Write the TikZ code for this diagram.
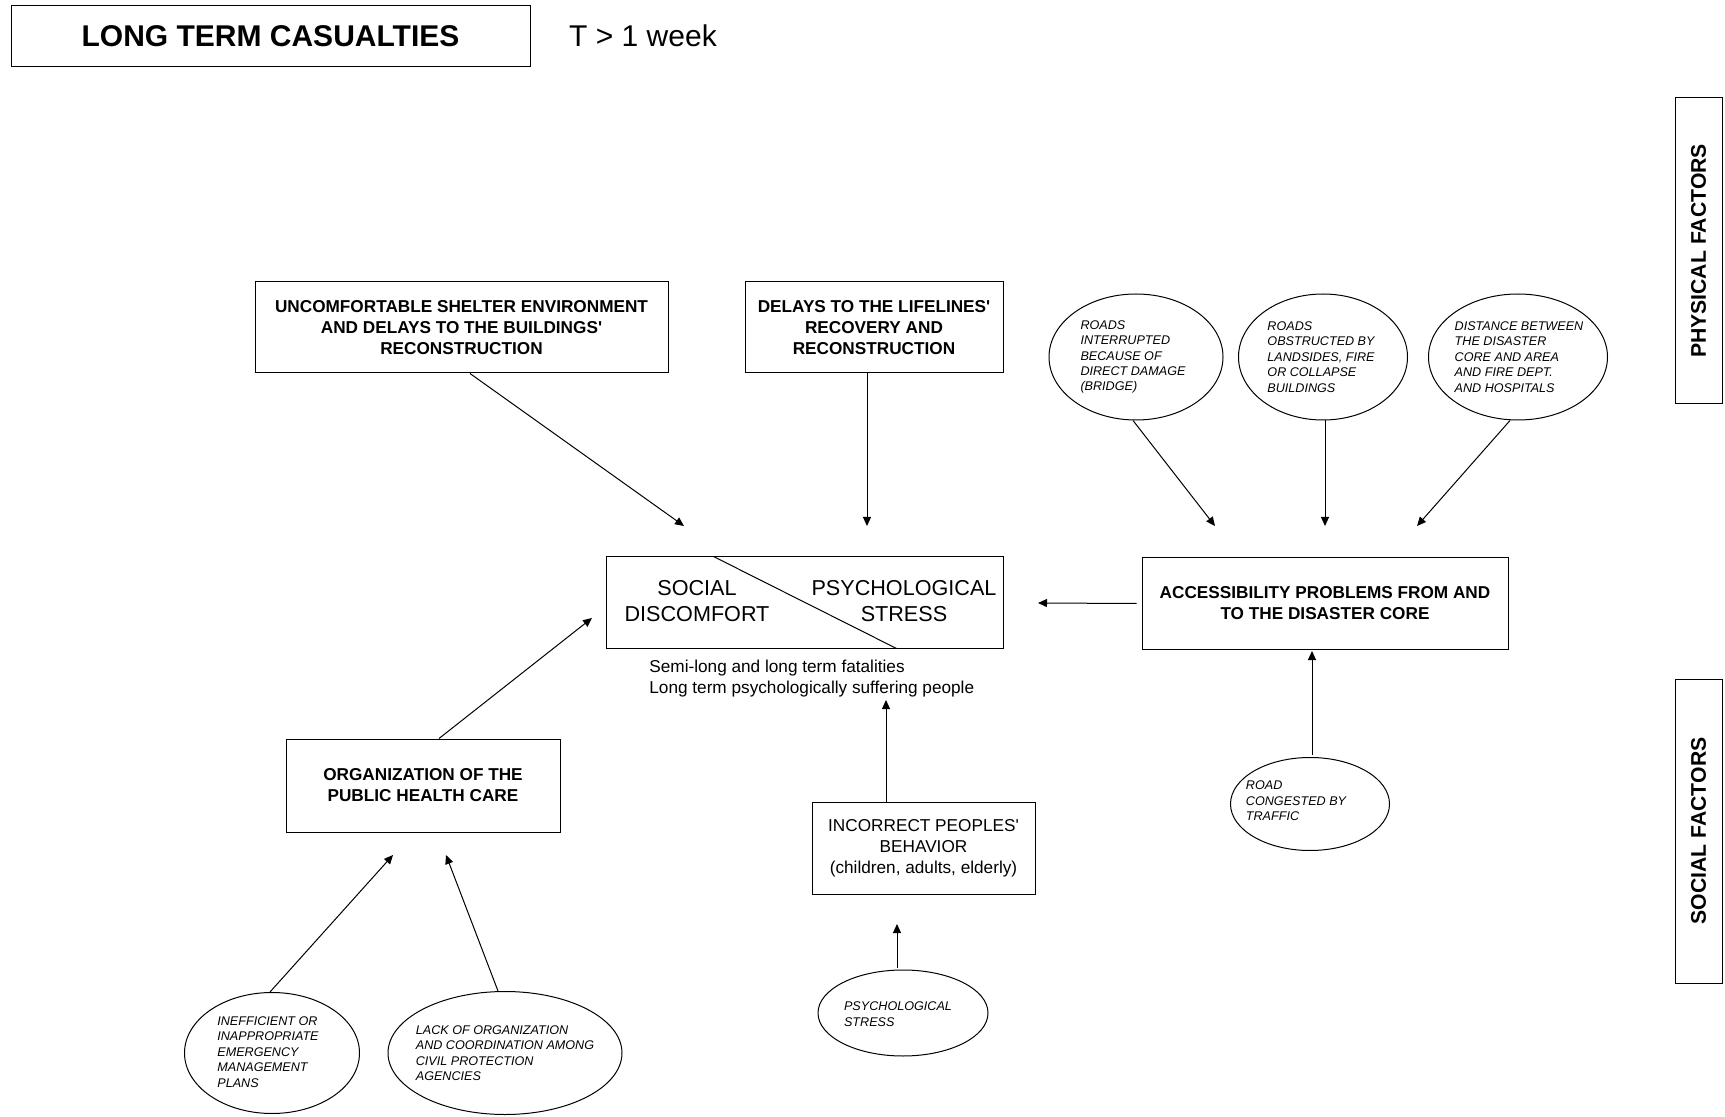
\documentclass[tikz,border=0pt]{standalone}
\usepackage{fontspec}
\setmainfont{Liberation Sans}
\usetikzlibrary{arrows.meta,shapes.geometric}

\tikzset{
  x=0.5pt, y=-0.5pt,
  thin line/.style={line width=0.5pt},
  arr/.style={thin line, -{Triangle[length=4.5pt,width=4pt]}},
  boxn/.style={draw, thin line, inner sep=0pt, align=center},
  bfsmall/.style={font=\fontsize{8.6}{10.5}\selectfont\bfseries},
  ell/.style={draw, ellipse, thin line, inner sep=0pt},
  etext/.style={align=left, inner sep=0pt, font=\fontsize{6.3}{7.7}\selectfont\itshape},
  sidebox/.style={boxn, rotate=90, minimum height=23.5pt, font=\fontsize{10.6}{12}\selectfont\bfseries},
}

\begin{document}
\begin{tikzpicture}
\useasboundingbox (0,0) rectangle (1725,1117);

% heading
\node[boxn, minimum width=259.5pt, minimum height=30.5pt,
      font=\fontsize{15}{18}\selectfont\bfseries] (title) at (270.5,36.5) {LONG TERM CASUALTIES};
\node[font=\fontsize{15}{18}\selectfont, inner sep=0pt] (period) at (643,36) {T > 1 week};

% side labels
\node[sidebox, minimum width=153pt] (phys) at (1698.5,251) {PHYSICAL FACTORS};
\node[sidebox, minimum width=152pt] (soc) at (1698.5,831) {SOCIAL FACTORS};

% main boxes
\node[boxn, bfsmall, minimum width=206.5pt, minimum height=45.5pt] (uncomf) at (461.5,327.5)
  {UNCOMFORTABLE SHELTER ENVIRONMENT\\AND DELAYS TO THE BUILDINGS\textquotesingle\\RECONSTRUCTION};
\node[boxn, bfsmall, minimum width=129pt, minimum height=45.5pt] (delays) at (874,327.5)
  {DELAYS TO THE LIFELINES\textquotesingle\\RECOVERY AND\\RECONSTRUCTION};
\node[boxn, minimum width=198.5pt, minimum height=45.5pt] (cbox) at (804.5,602.5) {};
\draw[thin line] ([xshift=54pt]cbox.north west) -- ([xshift=145.5pt]cbox.south west);
\node[align=center, inner sep=0pt, font=\fontsize{10.8}{12.6}\selectfont] (social) at (697,601)
  {SOCIAL\\DISCOMFORT};
\node[align=center, inner sep=0pt, font=\fontsize{10.8}{12.6}\selectfont] (psy) at (904,601)
  {PSYCHOLOGICAL\\STRESS};
\node[align=left, inner sep=0pt, anchor=west, font=\fontsize{8.6}{10.5}\selectfont] (result) at (649,678.5)
  {Semi-long and long term fatalities\\Long term psychologically suffering people};
\node[boxn, bfsmall, minimum width=183pt, minimum height=45.5pt] (access) at (1325,603.5)
  {ACCESSIBILITY PROBLEMS FROM AND\\TO THE DISASTER CORE};
\node[boxn, bfsmall, minimum width=137pt, minimum height=46.5pt] (org) at (423,785.5)
  {ORGANIZATION OF THE\\PUBLIC HEALTH CARE};
\node[boxn, minimum width=111.5pt, minimum height=46pt, font=\fontsize{8.6}{10.6}\selectfont] (incor) at (923.5,848)
  {INCORRECT PEOPLES\textquotesingle\\BEHAVIOR\\(children, adults, elderly)};

% physical factor ellipses
\node[ell, minimum width=87pt, minimum height=63pt] (e1) at (1136,357) {};
\node[etext] at (1133,357) {ROADS\\INTERRUPTED\\BECAUSE OF\\DIRECT DAMAGE\\(BRIDGE)};
\node[ell, minimum width=84.5pt, minimum height=63pt] (e2) at (1323,357) {};
\node[etext] at (1321,357) {ROADS\\OBSTRUCTED BY\\LANDSIDES, FIRE\\OR COLLAPSE\\BUILDINGS};
\node[ell, minimum width=89.5pt, minimum height=63pt] (e3) at (1518,357) {};
\node[etext] at (1519,357) {DISTANCE BETWEEN\\THE DISASTER\\CORE AND AREA\\AND FIRE DEPT.\\AND HOSPITALS};

% social factor ellipses
\node[ell, minimum width=79.5pt, minimum height=46.5pt] (road) at (1310,804) {};
\node[etext] at (1296,801) {ROAD\\CONGESTED BY\\TRAFFIC};
\node[ell, minimum width=85pt, minimum height=43pt] (pstress) at (903,1013) {};
\node[etext] at (898,1014) {PSYCHOLOGICAL\\STRESS};
\node[ell, minimum width=87.5pt, minimum height=60.5pt] (ineff) at (272,1053) {};
\node[etext] at (268,1052) {INEFFICIENT OR\\INAPPROPRIATE\\EMERGENCY\\MANAGEMENT\\PLANS};
\node[ell, minimum width=117pt, minimum height=61.5pt] (lack) at (505,1053) {};
\node[etext] at (505,1053) {LACK OF ORGANIZATION\\AND COORDINATION AMONG\\CIVIL PROTECTION\\AGENCIES};

% arrow tips
\coordinate (t1) at (684,526);
\coordinate (t2) at (867,526);
\coordinate (t3) at (1215,526);
\coordinate (t4) at (1325,526);
\coordinate (t5) at (1417,526);
\coordinate (t6) at (1038,603);
\coordinate (t7) at (592,618);
\coordinate (t8) at (886,700);
\coordinate (t9) at (897,924);
\coordinate (t10) at (1312,651);
\coordinate (t11) at (393,855);
\coordinate (t12) at (446,855);

% connectors
\draw[arr] ([xshift=4.25pt]uncomf.south) -- (t1);
\draw[arr] ([xshift=-3.5pt]delays.south) -- (t2);
\draw[arr] ([xshift=-1.5pt]e1.south) -- (t3);
\draw[arr] ([xshift=1pt]e2.south) -- (t4);
\draw[arr] ([xshift=-4pt]e3.south) -- (t5);
\draw[arr] ([xshift=-2.5pt]access.west) -- (t6);
\draw[arr] ([xshift=8pt]org.north) -- (t7);
\draw[arr] ([xshift=-18.75pt]incor.north) -- (t8);
\draw[arr] ([xshift=-3pt,yshift=1pt]pstress.north) -- (t9);
\draw[arr] ([xshift=1pt,yshift=1pt]road.north) -- (t10);
\draw[arr] ([xshift=-1pt]ineff.north) -- (t11);
\draw[arr] ([xshift=-3.5pt]lack.north) -- (t12);
\end{tikzpicture}
\end{document}
